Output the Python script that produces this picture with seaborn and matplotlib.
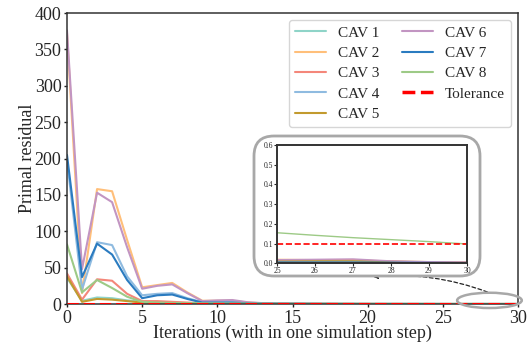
import numpy as np
import pandas as pd
import matplotlib
matplotlib.use("Agg")
import matplotlib.pyplot as plt
import seaborn as sns
from matplotlib.patches import FancyBboxPatch, Ellipse
from matplotlib.lines import Line2D

iterations = list(range(31))
cav1 = [36, 4.5, 9, 8, 5, 3, 2.5, 2, 1.2, 0.8, 0.6, 0.5, 0.4, 0.3, 0.2, 0.15, 0.1, 0.08, 0.06, 0.05, 0.04, 0.035, 0.03, 0.025, 0.02, 0.018, 0.016, 0.015, 0.01, 0.007, 0.005]
cav2 = [372, 15, 158, 155, 88, 23, 26, 29, 16, 4.5, 4.5, 4.5, 2.0, 1.0, 0.8, 0.6, 0.4, 0.3, 0.2, 0.15, 0.1, 0.08, 0.06, 0.05, 0.04, 0.02, 0.018, 0.016, 0.012, 0.008, 0.006]
cav3 = [42, 6, 34, 32, 14, 4, 4, 3, 2, 1, 0.8, 0.6, 0.5, 0.4, 0.3, 0.2, 0.15, 0.1, 0.08, 0.06, 0.05, 0.04, 0.035, 0.03, 0.025, 0.015, 0.016, 0.017, 0.01, 0.006, 0.005]
cav4 = [198, 20, 85, 81, 38, 12, 14, 15, 8, 2.5, 2.5, 2.5, 1.2, 0.8, 0.5, 0.4, 0.3, 0.2, 0.15, 0.1, 0.08, 0.06, 0.05, 0.04, 0.03, 0.01, 0.011, 0.012, 0.008, 0.005, 0.004]
cav5 = [38, 3, 7, 6, 4, 2, 1.5, 1.2, 0.8, 0.5, 0.4, 0.3, 0.25, 0.2, 0.15, 0.1, 0.08, 0.06, 0.05, 0.04, 0.03, 0.025, 0.02, 0.018, 0.016, 0.012, 0.012, 0.012, 0.008, 0.005, 0.004]
cav6 = [376, 48, 153, 140, 78, 21, 25, 27, 15, 4, 5, 5.5, 2.5, 1.2, 0.9, 0.7, 0.5, 0.35, 0.25, 0.18, 0.12, 0.1, 0.08, 0.06, 0.05, 0.018, 0.02, 0.022, 0.012, 0.008, 0.006]
cav7 = [205, 37, 83, 68, 33, 8, 12, 13, 7, 2, 2, 2, 1, 0.6, 0.4, 0.3, 0.2, 0.15, 0.1, 0.08, 0.06, 0.05, 0.04, 0.03, 0.02, 0.006, 0.006, 0.006, 0.005, 0.004, 0.003]
cav8 = [82, 16, 33, 22, 10, 3, 2, 1.5, 1.2, 1.0, 0.9, 0.8, 0.7, 0.6, 0.5, 0.45, 0.4, 0.35, 0.3, 0.27, 0.24, 0.22, 0.2, 0.19, 0.17, 0.155, 0.142, 0.13, 0.12, 0.11, 0.098]
tolerance = 0.1

names = ["CAV 1", "CAV 2", "CAV 3", "CAV 4", "CAV 5", "CAV 6", "CAV 7", "CAV 8"]
series = [cav1, cav2, cav3, cav4, cav5, cav6, cav7, cav8]
colors = ["#8fd4c8", "#ffbf7a", "#f4877a", "#8fbbe0", "#c29a2e", "#c295c2", "#2a7bc0", "#9dca86"]

rows = []
for n, s in zip(names, series):
    for it, v in zip(iterations, s):
        rows.append((n, it, v))
df = pd.DataFrame(rows, columns=["Vehicle", "Iteration", "Residual"])
palette = dict(zip(names, colors))

sns.set_style("ticks")
plt.rcParams["font.family"] = ["Liberation Serif", "DejaVu Serif"]

fig = plt.figure(figsize=(5.3, 3.48), dpi=100)
ax = fig.add_axes([0.1264, 0.1264, 0.851, 0.8362])

sns.lineplot(data=df, x="Iteration", y="Residual", hue="Vehicle", palette=palette,
             ax=ax, linewidth=1.5)
ax.axhline(tolerance, color="red", linestyle="--", linewidth=2.2, zorder=5)
handles, labels = ax.get_legend_handles_labels()
tol_handle = Line2D([], [], color="red", linestyle="--", linewidth=2.5)
ax.legend(handles + [tol_handle], labels + ["Tolerance"], ncol=2, loc="upper right",
          fontsize=11, frameon=True, edgecolor="#cccccc", fancybox=True,
          borderpad=0.4, labelspacing=0.43, columnspacing=1.5, handlelength=2.0,
          borderaxespad=0, bbox_to_anchor=(0.9845, 0.976))

ax.set_xlim(0, 30)
ax.set_ylim(0, 400)
ax.set_xticks([0, 5, 10, 15, 20, 25, 30])
ax.set_yticks([0, 50, 100, 150, 200, 250, 300, 350, 400])
ax.tick_params(labelsize=13, length=2.5, width=1, pad=1.5, color="#222222")
ax.set_xlabel("Iterations (with in one simulation step)", fontsize=13, labelpad=-1)
ax.set_ylabel("Primal residual", fontsize=13, labelpad=-1)
for sp in ax.spines.values():
    sp.set_color("#333333")
    sp.set_linewidth(1.1)

# rounded box behind the inset
box = FancyBboxPatch((2.54, 0.72), 2.26, 1.40, boxstyle="round,pad=0,rounding_size=0.2",
                     transform=fig.dpi_scale_trans, facecolor="white",
                     edgecolor="#a8a8a8", linewidth=2.0, zorder=3)
fig.patches.append(box)

# ellipse around zoomed region
ell = Ellipse((28.1, 5.0), 4.3, 21, facecolor="none", edgecolor="#a8a8a8",
              linewidth=1.8, clip_on=False, zorder=6)
ax.add_patch(ell)

# dashed arrow
ax.annotate("", xy=(3.70, 0.71), xytext=(4.90, 0.55),
            xycoords=fig.dpi_scale_trans, textcoords=fig.dpi_scale_trans,
            arrowprops=dict(arrowstyle="-|>", linestyle=(0, (3, 2)), color="#222222",
                            lw=0.9, mutation_scale=7, connectionstyle="arc3,rad=0.12"))

# inset
axin = fig.add_axes([0.5226, 0.2434, 0.3584, 0.3399], zorder=4)
sub = df[df["Iteration"] >= 25]
sns.lineplot(data=sub, x="Iteration", y="Residual", hue="Vehicle", palette=palette,
             ax=axin, linewidth=1.0, legend=False)
axin.axhline(tolerance, color="red", linestyle="--", linewidth=1.2)
axin.set_xlim(25, 30)
axin.set_ylim(0, 0.6)
axin.set_xticks([25, 26, 27, 28, 29, 30])
axin.set_yticks([0.0, 0.1, 0.2, 0.3, 0.4, 0.5, 0.6])
axin.set_yticklabels(["0.0", "0.1", "0.2", "0.3", "0.4", "0.5", "0.6"])
axin.tick_params(labelsize=5.5, length=2, width=0.8, pad=0.5)
axin.set_xlabel("")
axin.set_ylabel("")
for sp in axin.spines.values():
    sp.set_color("#333333")
    sp.set_linewidth(1.4)

fig.savefig("out.png", dpi=100)
